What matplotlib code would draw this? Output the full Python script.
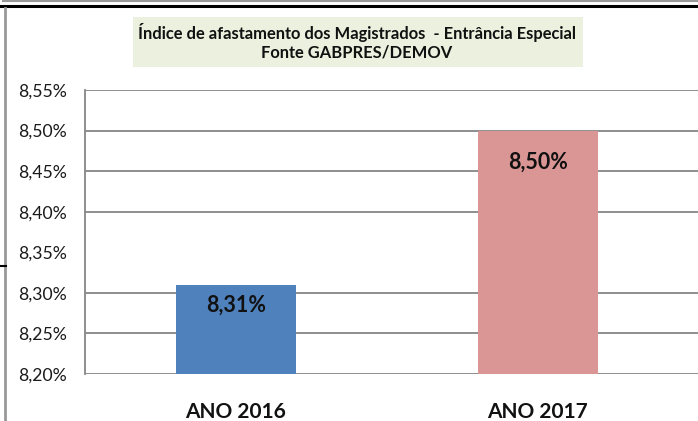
import numpy as np
import matplotlib.pyplot as plt
from matplotlib.lines import Line2D
from matplotlib.patches import Rectangle

# chart data
categories = ['ANO 2016', 'ANO 2017']
values = [8.31, 8.50]
labels = ['8,31%', '8,50%']
bar_colors = ['#4F81BD', '#D99694']
label_offsets = [-20, -32]   # px below bar top
yticks = [8.20, 8.25, 8.30, 8.35, 8.40, 8.45, 8.50, 8.55]
ytick_labels = ['8,20%', '8,25%', '8,30%', '8,35%', '8,40%', '8,45%', '8,50%', '8,55%']
grid_values = [8.20, 8.25, 8.30, 8.40, 8.45, 8.50, 8.55]
title_lines = ['Índice de afastamento dos Magistrados  - Entrância Especial',
               'Fonte GABPRES/DEMOV']

plt.rcParams['font.family'] = ['Lato', 'DejaVu Sans']

W, H = 698, 421
fig = plt.figure(figsize=(W / 100, H / 100), dpi=100)

# plot area
ax = fig.add_axes([85 / W, 1 - 374 / H, 1 - 85 / W, (374 - 90) / H])
x = np.arange(len(categories))
ax.bar(x, values, width=0.4, color=bar_colors, zorder=3, bottom=0)
ax.set_ylim(8.20, 8.55)
ax.set_xlim(-0.5, 1.53)
for g in grid_values:
    ax.axhline(g, color='#868686', lw=1.3, zorder=2)

ax.set_yticks(yticks)
ax.set_yticklabels(ytick_labels, fontsize=12.7, color='#1a1a1a')
ax.tick_params(axis='y', length=0, pad=13)
ax.set_xticks(x)
ax.set_xticklabels(categories, fontsize=15, fontweight='bold', color='#111111')
ax.tick_params(axis='x', length=0, pad=20)
for s in ['top', 'right', 'bottom']:
    ax.spines[s].set_visible(False)
ax.spines['left'].set_color('#868686')
ax.spines['left'].set_linewidth(1.3)

for xi, v, lab, off in zip(x, values, labels, label_offsets):
    ax.annotate(lab, (xi, v), xytext=(0, off * 0.72), textcoords='offset points',
                ha='center', va='center', fontsize=15.5, fontweight='bold',
                color='#111111', zorder=4)

# title box
fig.patches.append(Rectangle((133 / W, 1 - 67 / H), (583 - 133) / W, 50 / H,
                             transform=fig.transFigure, facecolor='#EBF1DE',
                             edgecolor='none', zorder=1))
fig.text(357 / W, 1 - 32 / H, title_lines[0], ha='center', va='center',
         fontsize=11.9, fontweight='bold', color='#111111')
fig.text(357 / W, 1 - 53 / H, title_lines[1], ha='center', va='center',
         fontsize=11.9, fontweight='bold', color='#111111')

# outer frame pieces
fig.lines.append(Line2D([3 / W, 1], [1 - 1 / H, 1 - 1 / H], transform=fig.transFigure,
                        color='#999999', lw=1.5))
fig.lines.append(Line2D([0, 1], [1 - 6 / H, 1 - 6 / H], transform=fig.transFigure,
                        color='black', lw=2.2))
fig.lines.append(Line2D([4.5 / W, 4.5 / W], [0, 1 - 8 / H], transform=fig.transFigure,
                        color='#999999', lw=2))
fig.lines.append(Line2D([0, 6 / W], [1 - 266 / H, 1 - 266 / H], transform=fig.transFigure,
                        color='black', lw=1.5))

fig.savefig('out.png', dpi=100)
